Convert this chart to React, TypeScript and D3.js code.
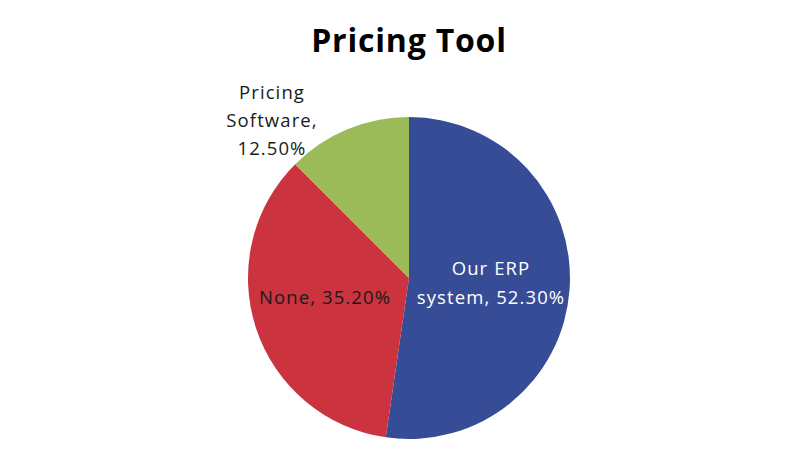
import React from "react";
import * as d3 from "d3";

const categories = ["Our ERP system", "None", "Pricing Software"];
const values = [52.3, 35.2, 12.5];
const colors = ["#364C96", "#CB333F", "#9BBB59"];

const W = 812, H = 470;
const cx = 409, cy = 278, R = 161;

export default function App() {
  const pie = d3.pie<number>().sort(null).value((d) => d)(values);
  const arc = d3.arc<d3.PieArcDatum<number>>().innerRadius(0).outerRadius(R);
  const font = "'Open Sans', sans-serif";
  return (
    <svg width={W} height={H} style={{ position: "absolute", left: 0, top: 0, background: "#fff" }}>
      <text x={409} y={52} textAnchor="middle" fontFamily={font} fontWeight="bold" fontSize={32} letterSpacing={0.8} fill="#000">
        Pricing Tool
      </text>
      <g transform={`translate(${cx},${cy})`}>
        {pie.map((p, i) => (
          <path key={i} d={arc(p) || ""} fill={colors[i]} />
        ))}
      </g>
      <g fontFamily={font} fontSize={18.5} letterSpacing={1.1}>
        <text x={491} y={275} textAnchor="middle" fill="#fff">Our ERP</text>
        <text x={491} y={304} textAnchor="middle" fill="#fff">
          {`system, ${values[0].toFixed(2)}%`}
        </text>
        <text x={325} y={304} textAnchor="middle" fill="#1a1a1a">
          {`None, ${values[1].toFixed(2)}%`}
        </text>
        <text x={272} y={99} textAnchor="middle" fill="#1a1a1a">Pricing</text>
        <text x={272} y={127} textAnchor="middle" fill="#1a1a1a">Software,</text>
        <text x={272} y={155} textAnchor="middle" fill="#1a1a1a">
          {`${values[2].toFixed(2)}%`}
        </text>
      </g>
    </svg>
  );
}
